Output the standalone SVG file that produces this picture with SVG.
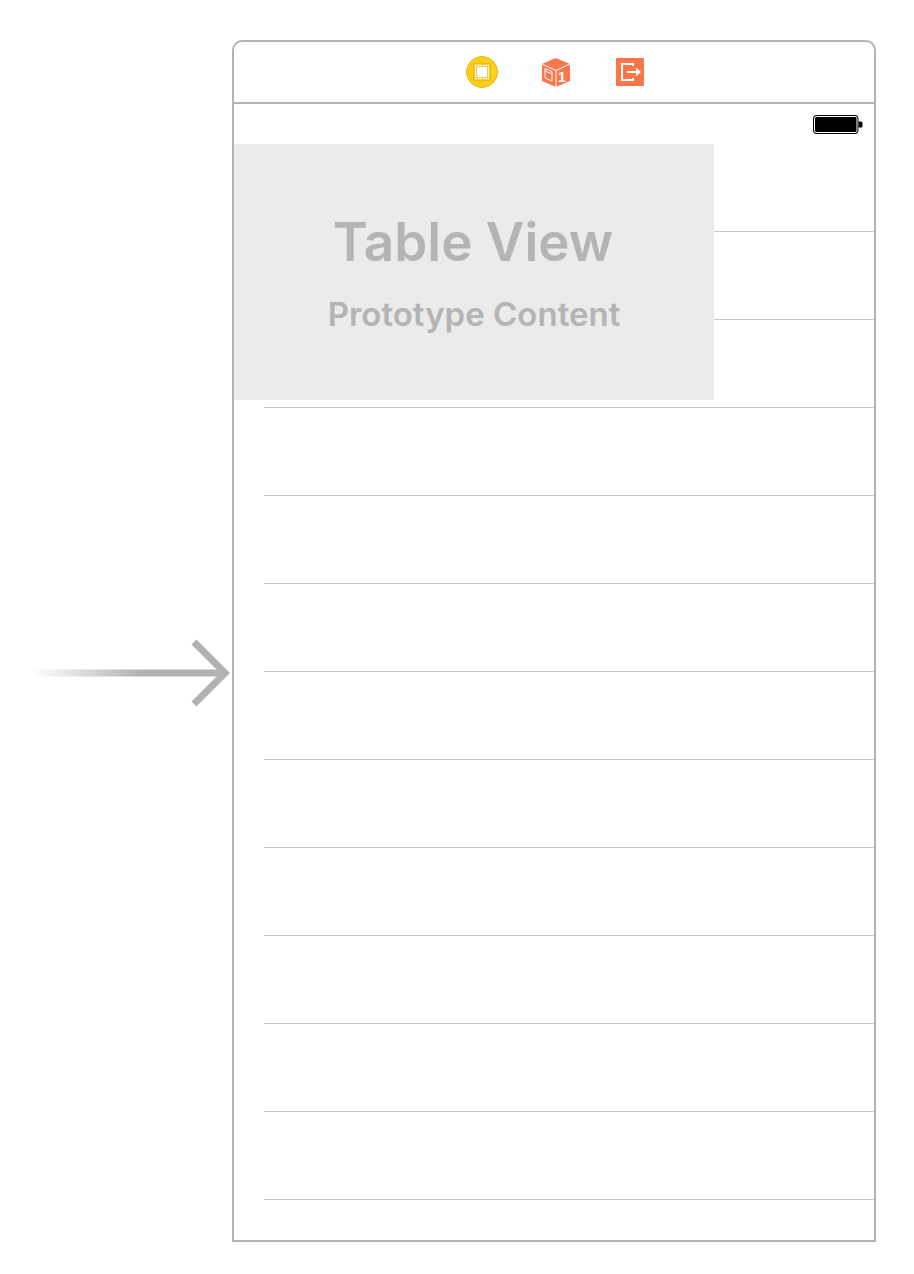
<svg xmlns="http://www.w3.org/2000/svg" width="914" height="1274" viewBox="0 0 914 1274">
<style>
.sep{stroke:#c8c8c8;stroke-width:1;fill:none}
.frame{stroke:#b2b2b2;stroke-width:2;fill:#fff}
.w{stroke:#fff;fill:none}
text{font-family:"Inter","Liberation Sans",sans-serif;fill:#b4b4b4;text-anchor:middle}
text.num{font-family:"Liberation Sans",sans-serif;fill:#fff;font-weight:700}
</style>
<defs>
<linearGradient id="fade" gradientUnits="userSpaceOnUse" x1="32" y1="0" x2="140" y2="0">
<stop offset="0" stop-color="#b2b2b2" stop-opacity="0"/>
<stop offset="1" stop-color="#b2b2b2"/>
</linearGradient>
</defs>
<rect width="914" height="1274" fill="#fff"/>
<g id="scene">
<path class="frame" d="M233 50a9 9 0 0 1 9-9H866a9 9 0 0 1 9 9V1241H233Z"/>
<path d="M233 103H875" stroke="#b2b2b2" stroke-width="2" fill="none"/>
</g>
<g id="rows">
<path class="sep" d="M714 231.500H874M714 319.500H874M264 407.500H874M264 495.500H874M264 583.500H874M264 671.500H874M264 759.500H874M264 847.500H874M264 935.500H874M264 1023.500H874M264 1111.500H874M264 1199.500H874"/>
</g>
<g id="table-view">
<rect x="234" y="144" width="480" height="256" fill="#ebebeb"/>
<text x="473" y="261" font-size="53" font-weight="600">Table View</text>
<text x="474" y="326" font-size="33" font-weight="600">Prototype Content</text>
</g>
<g id="battery">
<rect x="813.500" y="115.500" width="44.500" height="18" rx="3" fill="#000" stroke="#000" stroke-width="1"/>
<rect x="814.500" y="116.500" width="42.500" height="16" rx="2" fill="#000" stroke="#fff" stroke-width="1"/>
<path d="M858.500 121.500h2.500a1.500 1.500 0 0 1 1.500 1.500v3a1.500 1.500 0 0 1-1.500 1.500H858.500Z" fill="#000"/>
</g>
<g id="view-controller-icon">
<circle cx="482" cy="72" r="15.500" fill="#fdd017" stroke="#e9b517" stroke-width="1"/>
<rect x="473.500" y="63.500" width="17" height="17" fill="#f2cd4a" stroke="#eab91a" stroke-width="1"/>
<rect x="477" y="67" width="10" height="10" fill="#fff"/>
<rect x="475.500" y="65.500" width="13" height="13" fill="none" stroke="#fff" stroke-width="1" stroke-dasharray="1.500 1"/>
</g>
<g id="first-responder-icon">
<path d="M555.500 58L570 64V81L556 87L542 81V64Z" fill="#f9774a"/>
<path d="M542 64L556 70.500L570 64M556 70.500V87" stroke="#fff" stroke-width="1" fill="none"/>
<path class="w" stroke-width="1" d="M545 68.500L552 71.500V81L545 78ZM545 71L552 74"/>
<text class="num" x="562" y="81.500" font-size="14">1</text>
</g>
<g id="exit-icon">
<rect x="616" y="58" width="28" height="28" fill="#f9774a"/>
<path class="w" stroke-width="2" d="M633 66V64H622V80H633V78"/>
<path d="M627 71H636V67.500L641 72L636 76.500V73H627Z" fill="#fff"/>
</g>
<g id="connectors">
<rect x="32" y="669.500" width="190" height="7" fill="url(#fade)"/>
<path d="M194 642L225 673L194 704" stroke="#b2b2b2" stroke-width="7" fill="none"/>
</g>
</svg>
